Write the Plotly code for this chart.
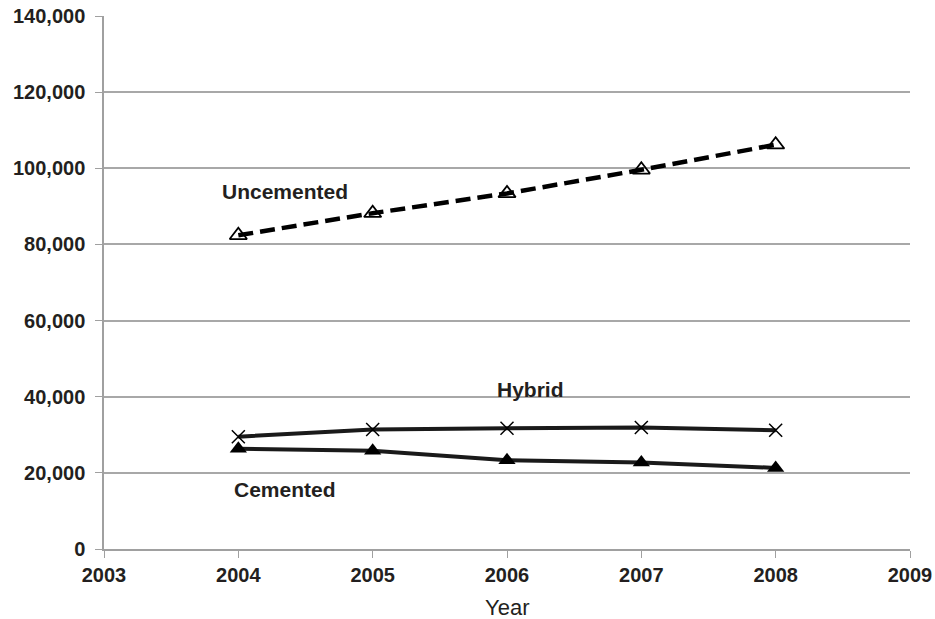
import plotly.graph_objects as go

years = [2004, 2005, 2006, 2007, 2008]
uncemented = [82400, 88200, 93400, 99600, 106200]
hybrid = [29500, 31400, 31700, 31900, 31200]
cemented = [26300, 25800, 23300, 22700, 21300]

x_ticks = [2003, 2004, 2005, 2006, 2007, 2008, 2009]
y_ticks = [0, 20000, 40000, 60000, 80000, 100000, 120000, 140000]

fig = go.Figure()
fig.add_trace(go.Scatter(
    x=years, y=uncemented, mode="lines+markers", name="Uncemented",
    line=dict(color="black", width=4.5, dash="15px,7px"),
    marker=dict(symbol="triangle-up-open", size=15, color="black", line=dict(width=1.8, color="black")),
))
fig.add_trace(go.Scatter(
    x=years, y=hybrid, mode="lines+markers", name="Hybrid",
    line=dict(color="#1a1a1a", width=4),
    marker=dict(symbol="x-thin-open", size=13, color="black", line=dict(width=1.5, color="black")),
))
fig.add_trace(go.Scatter(
    x=years, y=cemented, mode="lines+markers", name="Cemented",
    line=dict(color="#1a1a1a", width=4),
    marker=dict(symbol="triangle-up", size=15, color="black"),
))

lab_font = dict(family="Liberation Sans, Arial, sans-serif", size=21, color="#231f20")
fig.add_annotation(x=2004.347, y=94000, text="<b>Uncemented</b>", showarrow=False, font=lab_font)
fig.add_annotation(x=2006.175, y=42000, text="<b>Hybrid</b>", showarrow=False, font=lab_font)
fig.add_annotation(x=2004.347, y=15700, text="<b>Cemented</b>", showarrow=False, font=lab_font)
fig.add_annotation(x=0.5, xref="paper", y=-0.109, yref="paper", yanchor="middle",
                   text="Year", showarrow=False,
                   font=dict(family="Liberation Sans, Arial, sans-serif", size=22, color="#231f20"))

fig.update_layout(
    width=935, height=619,
    margin=dict(l=104, r=25, t=16, b=70),
    paper_bgcolor="white", plot_bgcolor="white",
    showlegend=False,
    font=dict(family="Liberation Sans, Arial, sans-serif", color="#231f20"),
)
fig.update_xaxes(
    range=[2003, 2009], tickvals=x_ticks, ticktext=[f"<b>{v}</b>" for v in x_ticks],
    tickfont=dict(size=20), showgrid=False, showline=True, linecolor="#a0a0a0", linewidth=1.5,
    ticks="outside", ticklen=7, tickcolor="#a0a0a0", zeroline=False,
    ticklabeloverflow="allow", automargin=False,
)
fig.update_yaxes(
    range=[0, 140000], tickvals=y_ticks, ticktext=[f"<b>{v:,}</b>" for v in y_ticks],
    tickfont=dict(size=20), showgrid=True, gridcolor="#a8a8a8", gridwidth=1.5,
    showline=True, linecolor="#a0a0a0", linewidth=1.5,
    ticks="outside", ticklen=7, tickcolor="#a0a0a0", zeroline=False,
    ticklabeloverflow="allow", ticklabelstandoff=6, automargin=False,
)

fig.write_html("out.html", post_script="document.body.style.margin='0';",
               config={"displayModeBar": False})
